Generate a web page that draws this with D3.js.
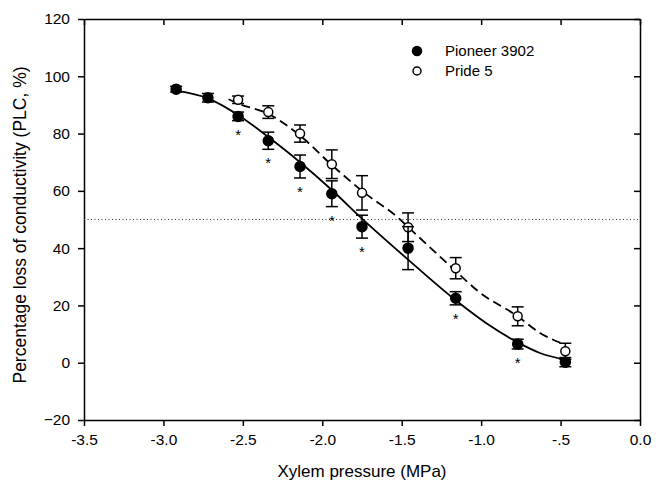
<!DOCTYPE html>
<html>
<head>
<meta charset="utf-8">
<script src="https://cdn.jsdelivr.net/npm/d3@7"></script>
<style>
  body { margin: 0; background: #fff; }
  text { font-family: Arial, "Liberation Sans", sans-serif; fill: #000; }
</style>
</head>
<body>
<div id="chart"></div>
<script>

// xylem pressure (MPa) for each sampling point
var pressure = [-2.92, -2.72, -2.53, -2.34, -2.14, -1.94, -1.75, -1.46, -1.16, -0.77, -0.47];

// Pioneer 3902, mean PLC and error
var pioneerPLC = [95.5, 92.5, 86.0, 77.5, 68.5, 59.0, 47.5, 40.0, 22.5, 6.5, 0.2];
var pioneerErr = [1.0, 1.5, 1.5, 3.0, 4.0, 4.5, 4.0, 7.5, 2.3, 1.7, 1.6];

// Pride 5 (no samples at the two driest pressures)
var pridePressure = [-2.53, -2.34, -2.14, -1.94, -1.75, -1.46, -1.16, -0.77, -0.47];
var pridePLC = [91.8, 87.5, 80.0, 69.3, 59.3, 47.3, 33.0, 16.2, 4.0];
var prideErr = [1.3, 2.2, 3.0, 5.0, 6.0, 5.0, 3.7, 3.3, 2.8];

// fitted curves
var pioneerFitX = [-2.92, -2.72, -2.53, -2.34, -2.14, -1.94, -1.75, -1.46, -1.16, -0.96, -0.77, -0.63, -0.47];
var pioneerFitY = [95.0, 92.3, 86.5, 78.8, 70.0, 60.3, 50.3, 36.0, 21.8, 13.5, 7.1, 3.4, 1.0];
var prideFitX = [-2.59, -2.53, -2.34, -2.14, -1.94, -1.75, -1.51, -1.46, -1.16, -1.02, -0.77, -0.63, -0.47];
var prideFitY = [92.0, 90.5, 86.9, 79.3, 69.0, 60.0, 50.0, 47.4, 32.0, 25.0, 16.2, 10.4, 6.3];

// pressures where the two cultivars differ (asterisk)
var sigPressure = [-2.53, -2.34, -2.14, -1.94, -1.75, -1.16, -0.77];

var xTicks = [-3.5, -3.0, -2.5, -2.0, -1.5, -1.0, -0.5, 0.0];
var xTickLabels = ["-3.5", "-3.0", "-2.5", "-2.0", "-1.5", "-1.0", "-.5", "0.0"];
var yTicks = [-20, 0, 20, 40, 60, 80, 100, 120];
var refLine = 50;

var seriesNames = ["Pioneer 3902", "Pride 5"];

var W = 657, H = 487;
var margin = {top: 19, right: 17, bottom: 67, left: 84};
var width = W - margin.left - margin.right,
    height = H - margin.top - margin.bottom;

var svg = d3.select("#chart").append("svg")
    .attr("width", W)
    .attr("height", H);

var g = svg.append("g")
    .attr("transform", "translate(" + margin.left + "," + margin.top + ")");

var x = d3.scaleLinear().domain([-3.5, 0]).range([0, width]);
var y = d3.scaleLinear().domain([-20, 120]).range([height, 0]);

var pioneer = pressure.map(function(p, i) {
    return {x: p, y: pioneerPLC[i], e: pioneerErr[i]};
});
var pride = pridePressure.map(function(p, i) {
    return {x: p, y: pridePLC[i], e: prideErr[i]};
});

// axes
var xAxis = g.append("g")
    .attr("transform", "translate(0," + height + ")")
    .call(d3.axisBottom(x)
        .tickValues(xTicks)
        .tickSizeInner(6).tickSizeOuter(0).tickPadding(8)
        .tickFormat(function(d, i) { return xTickLabels[i]; }));

var yAxis = g.append("g")
    .call(d3.axisLeft(y)
        .tickValues(yTicks)
        .tickSizeInner(6).tickSizeOuter(0).tickPadding(8));

var topAxis = g.append("g")
    .call(d3.axisTop(x)
        .tickValues(xTicks)
        .tickSizeInner(-6).tickSizeOuter(0)
        .tickFormat(""));

var rightAxis = g.append("g")
    .attr("transform", "translate(" + width + ",0)")
    .call(d3.axisRight(y)
        .tickValues(yTicks)
        .tickSizeInner(-6).tickSizeOuter(0)
        .tickFormat(""));

[xAxis, yAxis, topAxis, rightAxis].forEach(function(a) {
    a.select(".domain").attr("stroke", "#000").attr("stroke-width", 1.5);
    a.selectAll(".tick line").attr("stroke", "#000").attr("stroke-width", 1.5);
    a.selectAll(".tick text")
        .attr("font-size", 15.5)
        .attr("font-family", "Arial, 'Liberation Sans', sans-serif")
        .attr("fill", "#000");
});

// axis titles
svg.append("text")
    .attr("x", margin.left + width / 2)
    .attr("y", 477)
    .attr("text-anchor", "middle")
    .attr("font-size", 17)
    .text("Xylem pressure (MPa)");

svg.append("text")
    .attr("transform", "translate(26,225) rotate(-90)")
    .attr("text-anchor", "middle")
    .attr("font-size", 17.5)
    .text("Percentage loss of conductivity (PLC, %)");

// 50% reference line
g.append("line")
    .attr("x1", 0).attr("x2", width)
    .attr("y1", y(refLine)).attr("y2", y(refLine))
    .attr("stroke", "#333")
    .attr("stroke-width", 1)
    .attr("stroke-dasharray", "1,2.5");

// fitted curves
var line = d3.line()
    .x(function(d) { return x(d[0]); })
    .y(function(d) { return y(d[1]); })
    .curve(d3.curveMonotoneX);

g.append("path")
    .datum(d3.zip(pioneerFitX, pioneerFitY))
    .attr("d", line)
    .attr("fill", "none")
    .attr("stroke", "#000")
    .attr("stroke-width", 1.8);

g.append("path")
    .datum(d3.zip(prideFitX, prideFitY))
    .attr("d", line)
    .attr("fill", "none")
    .attr("stroke", "#000")
    .attr("stroke-width", 1.8)
    .attr("stroke-dasharray", "9,5");

// error bars + markers
var cap = 6;
var drawSeries = function(data, filled) {
    var grp = g.append("g");
    var bars = grp.selectAll("g.err")
        .data(data)
        .enter().append("g")
        .attr("class", "err")
        .attr("stroke", "#000")
        .attr("stroke-width", 1.5);

    bars.append("line")
        .attr("x1", d => x(d.x)).attr("x2", d => x(d.x))
        .attr("y1", d => y(d.y + d.e)).attr("y2", d => y(d.y - d.e));
    bars.append("line")
        .attr("x1", d => x(d.x) - cap).attr("x2", d => x(d.x) + cap)
        .attr("y1", d => y(d.y + d.e)).attr("y2", d => y(d.y + d.e));
    bars.append("line")
        .attr("x1", d => x(d.x) - cap).attr("x2", d => x(d.x) + cap)
        .attr("y1", d => y(d.y - d.e)).attr("y2", d => y(d.y - d.e));

    grp.selectAll("circle")
        .data(data)
        .enter().append("circle")
        .attr("cx", d => x(d.x))
        .attr("cy", d => y(d.y))
        .attr("r", filled ? 5 : 4.5)
        .attr("fill", filled ? "#000" : "#fff")
        .attr("stroke", "#000")
        .attr("stroke-width", 1.5);
};

drawSeries(pride, false);
drawSeries(pioneer, true);

// asterisks under the Pioneer points
g.selectAll("text.sig")
    .data(pioneer.filter(function(d) { return sigPressure.indexOf(d.x) >= 0; }))
    .enter().append("text")
    .attr("class", "sig")
    .attr("x", d => x(d.x))
    .attr("y", d => y(d.y - d.e) + 19)
    .attr("text-anchor", "middle")
    .attr("font-size", 15)
    .text("*");

// legend
var legend = svg.append("g");
seriesNames.forEach(function(name, i) {
    legend.append("circle")
        .attr("cx", 417)
        .attr("cy", 51 + i * 20)
        .attr("r", i == 0 ? 4.5 : 4)
        .attr("fill", i == 0 ? "#000" : "#fff")
        .attr("stroke", "#000")
        .attr("stroke-width", 1.5);
    legend.append("text")
        .attr("x", 445)
        .attr("y", 56 + i * 20)
        .attr("font-size", 15)
        .text(name);
});

</script>
</body>
</html>
